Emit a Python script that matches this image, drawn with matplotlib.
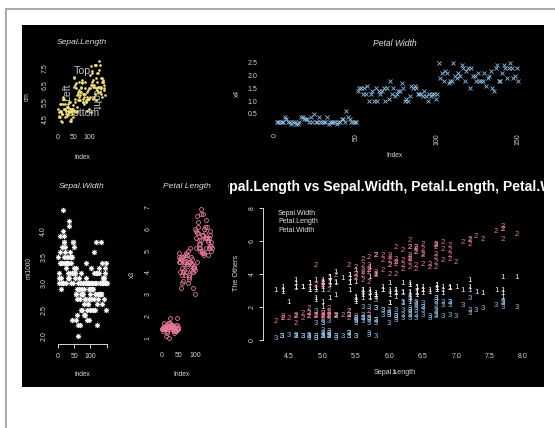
import matplotlib
matplotlib.use("Agg")
import matplotlib.pyplot as plt
from matplotlib.transforms import Bbox, TransformedBbox
from matplotlib.patches import Rectangle
from matplotlib.lines import Line2D

plt.rcParams['font.family'] = ['Liberation Sans', 'DejaVu Sans']

# ---------------- data (iris) ----------------
sepal_length = [5.1,4.9,4.7,4.6,5.0,5.4,4.6,5.0,4.4,4.9,5.4,4.8,4.8,4.3,5.8,5.7,5.4,5.1,5.7,5.1,5.4,5.1,4.6,5.1,4.8,5.0,5.0,5.2,5.2,4.7,4.8,5.4,5.2,5.5,4.9,5.0,5.5,4.9,4.4,5.1,5.0,4.5,4.4,5.0,5.1,4.8,5.1,4.6,5.3,5.0,
                7.0,6.4,6.9,5.5,6.5,5.7,6.3,4.9,6.6,5.2,5.0,5.9,6.0,6.1,5.6,6.7,5.6,5.8,6.2,5.6,5.9,6.1,6.3,6.1,6.4,6.6,6.8,6.7,6.0,5.7,5.5,5.5,5.8,6.0,5.4,6.0,6.7,6.3,5.6,5.5,5.5,6.1,5.8,5.0,5.6,5.7,5.7,6.2,5.1,5.7,
                6.3,5.8,7.1,6.3,6.5,7.6,4.9,7.3,6.7,7.2,6.5,6.4,6.8,5.7,5.8,6.4,6.5,7.7,7.7,6.0,6.9,5.6,7.7,6.3,6.7,7.2,6.2,6.1,6.4,7.2,7.4,7.9,6.4,6.3,6.1,7.7,6.3,6.4,6.0,6.9,6.7,6.9,5.8,6.8,6.7,6.7,6.3,6.5,6.2,5.9]
sepal_width = [3.5,3.0,3.2,3.1,3.6,3.9,3.4,3.4,2.9,3.1,3.7,3.4,3.0,3.0,4.0,4.4,3.9,3.5,3.8,3.8,3.4,3.7,3.6,3.3,3.4,3.0,3.4,3.5,3.4,3.2,3.1,3.4,4.1,4.2,3.1,3.2,3.5,3.6,3.0,3.4,3.5,2.3,3.2,3.5,3.8,3.0,3.8,3.2,3.7,3.3,
               3.2,3.2,3.1,2.3,2.8,2.8,3.3,2.4,2.9,2.7,2.0,3.0,2.2,2.9,2.9,3.1,3.0,2.7,2.2,2.5,3.2,2.8,2.5,2.8,2.9,3.0,2.8,3.0,2.9,2.6,2.4,2.4,2.7,2.7,3.0,3.4,3.1,2.3,3.0,2.5,2.6,3.0,2.6,2.3,2.7,3.0,2.9,2.9,2.5,2.8,
               3.3,2.7,3.0,2.9,3.0,3.0,2.5,2.9,2.5,3.6,3.2,2.7,3.0,2.5,2.8,3.2,3.0,3.8,2.6,2.2,3.2,2.8,2.8,2.7,3.3,3.2,2.8,3.0,2.8,3.0,2.8,3.8,2.8,2.8,2.6,3.0,3.4,3.1,3.0,3.1,3.1,3.1,2.7,3.2,3.3,3.0,2.5,3.0,3.4,3.0]
petal_length = [1.4,1.4,1.3,1.5,1.4,1.7,1.4,1.5,1.4,1.5,1.5,1.6,1.4,1.1,1.2,1.5,1.3,1.4,1.7,1.5,1.7,1.5,1.0,1.7,1.9,1.6,1.6,1.5,1.4,1.6,1.6,1.5,1.5,1.4,1.5,1.2,1.3,1.4,1.3,1.5,1.3,1.3,1.3,1.6,1.9,1.4,1.6,1.4,1.5,1.4,
                4.7,4.5,4.9,4.0,4.6,4.5,4.7,3.3,4.6,3.9,3.5,4.2,4.0,4.7,3.6,4.4,4.5,4.1,4.5,3.9,4.8,4.0,4.9,4.7,4.3,4.4,4.8,5.0,4.5,3.5,3.8,3.7,3.9,5.1,4.5,4.5,4.7,4.4,4.1,4.0,4.4,4.6,4.0,3.3,4.2,4.2,4.2,4.3,3.0,4.1,
                6.0,5.1,5.9,5.6,5.8,6.6,4.5,6.3,5.8,6.1,5.1,5.3,5.5,5.0,5.1,5.3,5.5,6.7,6.9,5.0,5.7,4.9,6.7,4.9,5.7,6.0,4.8,4.9,5.6,5.8,6.1,6.4,5.6,5.1,5.6,6.1,5.6,5.5,4.8,5.4,5.6,5.1,5.1,5.9,5.7,5.2,5.0,5.2,5.4,5.1]
petal_width = [0.2,0.2,0.2,0.2,0.2,0.4,0.3,0.2,0.2,0.1,0.2,0.2,0.1,0.1,0.2,0.4,0.4,0.3,0.3,0.3,0.2,0.4,0.2,0.5,0.2,0.2,0.4,0.2,0.2,0.2,0.2,0.4,0.1,0.2,0.2,0.2,0.2,0.1,0.2,0.2,0.3,0.3,0.2,0.6,0.4,0.3,0.2,0.2,0.2,0.2,
               1.4,1.5,1.5,1.3,1.5,1.3,1.6,1.0,1.3,1.4,1.0,1.5,1.0,1.4,1.3,1.4,1.5,1.0,1.5,1.1,1.8,1.3,1.5,1.2,1.3,1.4,1.4,1.7,1.5,1.0,1.1,1.0,1.2,1.6,1.5,1.6,1.5,1.3,1.3,1.3,1.2,1.4,1.2,1.0,1.3,1.2,1.3,1.3,1.1,1.3,
               2.5,1.9,2.1,1.8,2.2,2.1,1.7,1.8,1.8,2.5,2.0,1.9,2.1,2.0,2.4,2.3,1.8,2.2,2.3,1.5,2.3,2.0,2.0,1.8,2.1,1.8,1.8,1.8,2.1,1.6,1.9,2.0,2.2,1.5,1.4,2.3,2.4,1.8,1.8,2.1,2.4,2.3,1.9,2.3,2.5,2.3,1.9,2.0,2.3,1.8]
index = list(range(1, 151))

titles = ["Sepal.Length", "Petal Width", "Sepal.Width", "Petal Length"]
main_title = "Sepal.Length vs Sepal.Width, Petal.Length, Petal.Width"
legend_labels = ["Sepal.Width", "Petal.Length", "Petal.Width"]
overlay_labels = ["Top", "Left", "Bottom", "Right"]

idx_ticks_3 = [0, 50, 100]
idx_ticks_4 = [0, 50, 100, 150]
sl_ticks = [4.5, 5.5, 6.5, 7.5]
pw_ticks = [0.5, 1.0, 1.5, 2.0, 2.5]
sw_ticks = [2.0, 2.5, 3.0, 3.5, 4.0]
pl_ticks = [1, 2, 3, 4, 5, 6, 7]
others_ticks = [0, 2, 4, 6, 8]
x5_ticks = [4.5, 5.0, 5.5, 6.0, 6.5, 7.0, 7.5, 8.0]

# ---------------- style ----------------
YELLOW = '#f2e07a'
BLUE = '#8dbde3'
PINK = '#e6799c'
WHITE = '#f2f2f2'
TXT = '#d6d6d6'
TS = 5.0   # tick label size

W, H = 555, 428
fig = plt.figure(figsize=(W / 100, H / 100), dpi=100)
fig.patch.set_facecolor('white')

def fx(x):
    return x / W

def fy(y):
    return 1 - y / H

fig.add_artist(Rectangle((fx(22), fy(387)), (544 - 22) / W, (387 - 25) / H,
                         transform=fig.transFigure, facecolor='black',
                         edgecolor='none', zorder=-10))
fig.add_artist(Line2D([fx(5.5), fx(5.5)], [fy(8.5), 0], transform=fig.transFigure,
                      color='#a8a8a8', lw=1.4, zorder=-9))
fig.add_artist(Line2D([fx(5.5), 1], [fy(8.5), fy(8.5)], transform=fig.transFigure,
                      color='#a8a8a8', lw=1.4, zorder=-9))

def add_ax(x0, x1, y0, y1):
    ax = fig.add_axes([fx(x0), fy(y1), (x1 - x0) / W, (y1 - y0) / H])
    ax.set_facecolor('none')
    for s in ax.spines.values():
        s.set_visible(False)
    ax.tick_params(colors=TXT, labelcolor=TXT, labelsize=TS, length=0)
    return ax

def ftext(x, y, s, **kw):
    kw.setdefault('color', TXT)
    kw.setdefault('ha', 'center')
    kw.setdefault('va', 'center')
    return fig.text(fx(x), fy(y), s, **kw)

def set_rot_yticks(ax, ticks, labels, pad):
    ax.set_yticks(ticks)
    ax.set_yticklabels(labels, rotation=90, va='center')
    ax.tick_params(axis='y', pad=pad)

# ---------------- panel 1: Sepal.Length ----------------
ax1 = add_ax(56.5, 106.4, 58.8, 124.9)
ax1.set_xlim(-4.96, 155.96)
ax1.set_ylim(4.156, 8.044)
ax1.plot(index, sepal_length, 'o', ms=1.9, mew=0, color=YELLOW, zorder=3)
ax1.set_xticks(idx_ticks_3)
ax1.set_xticklabels([str(t) for t in idx_ticks_3])
ax1.tick_params(axis='x', pad=6.3)
set_rot_yticks(ax1, sl_ticks, [f"{t:.1f}" for t in sl_ticks], 5.8)
OV = '#c4c4c4'
for (px, py, rot), lab in zip([(82, 71, 0), (67, 92, 90), (83, 113, 0), (95, 97, 270)], overlay_labels):
    ax1.text(fx(px), fy(py), lab, transform=fig.transFigure, color=OV, fontsize=7.6,
             rotation=rot, ha='center', va='center', zorder=1)
ftext(82, 43, titles[0], fontsize=6.1, style='italic', color='#dedede')
ftext(27, 97, "cm", fontsize=4.8, rotation=90)
ftext(82, 157, "index", fontsize=4.8)

# ---------------- panel 2: Petal Width ----------------
ax2 = add_ax(267, 528, 60.5, 126.6)
ax2.set_xlim(-4.96, 155.96)
ax2.set_ylim(0.004, 2.596)
ax2.plot(index, petal_width, 'x', ms=2.7, mew=0.6, color=BLUE)
ax2.set_xticks(idx_ticks_4)
ax2.set_xticklabels([str(t) for t in idx_ticks_4], rotation=90, va='top')
ax2.tick_params(axis='x', pad=4.6)
ax2.set_yticks(pw_ticks)
ax2.set_yticklabels([f"{t:.1f}" for t in pw_ticks])
ax2.tick_params(axis='y', pad=7)
ftext(395, 43, titles[1], fontsize=6.2, style='italic', color='#dedede')
ftext(237, 93, "x4", fontsize=4.8, rotation=90)
ftext(395, 156, "Index", fontsize=4.8)

# ---------------- panel 3: Sepal.Width ----------------
ax3 = add_ax(56.4, 108.6, 205, 341)
ax3.set_xlim(-4.96, 155.96)
ax3.set_ylim(1.904, 4.496)
ax3.plot(index, sepal_width, marker=(8, 2, 0), ls='none', ms=3.7, mew=0.6, color=WHITE)
sb = ax3.spines['bottom']
sb.set_visible(True)
sb.set_color(TXT)
sb.set_linewidth(0.7)
sb.set_bounds(0, 150)
sb.set_position(('outward', 1.9))
ax3.set_xticks(idx_ticks_4)
ax3.set_xticklabels([str(t) for t in idx_ticks_3] + [''])
ax3.tick_params(axis='x', length=2.6, width=0.7, direction='out', pad=4.3)
set_rot_yticks(ax3, sw_ticks, [f"{t:.1f}" for t in sw_ticks], 6.5)
ftext(82, 187, titles[2], fontsize=6.1, style='italic', color='#dedede')
ftext(29, 268, "m/1000", fontsize=4.8, rotation=90)
ftext(82, 374.5, "index", fontsize=4.8)

# ---------------- panel 4: Petal Length ----------------
ax4 = add_ax(160.0, 213.6, 204, 343)
ax4.set_xlim(-4.96, 155.96)
ax4.set_ylim(0.764, 7.136)
ax4.plot(index, petal_length, 'o', ms=2.8, mfc='none', mec=PINK, mew=0.6)
ax4.set_xticks(idx_ticks_3)
ax4.set_xticklabels([str(t) for t in idx_ticks_3])
ax4.tick_params(axis='x', pad=6.8)
set_rot_yticks(ax4, pl_ticks, [str(t) for t in pl_ticks], 5.8)
ftext(187, 187, titles[3], fontsize=6.1, style='italic', color='#dedede')
ftext(132, 275, "x3", fontsize=4.8, rotation=90)
ftext(181.5, 374, "Index", fontsize=4.8)

# ---------------- panel 5: matplot ----------------
ax5 = add_ax(266, 526, 202.7, 345.3)
ax5.set_xlim(4.156, 8.044)
ax5.set_ylim(-0.32, 8.32)
for series, ch, col in [(sepal_width, '1', WHITE), (petal_length, '2', PINK), (petal_width, '3', BLUE)]:
    for xv, yv in zip(sepal_length, series):
        ax5.text(xv, yv, ch, color=col, fontsize=5.6, ha='center', va='center')
sl = ax5.spines['left']
sl.set_visible(True)
sl.set_color(TXT)
sl.set_linewidth(0.7)
sl.set_bounds(0, 8)
sl.set_position(('outward', 2.2))
ax5.set_yticks(others_ticks)
ax5.set_yticklabels([str(t) for t in others_ticks], rotation=90, va='center')
ax5.tick_params(axis='y', length=2.9, width=0.7, direction='out', pad=2.4)
ax5.set_xticks(x5_ticks)
ax5.set_xticklabels([f"{t:.1f}" for t in x5_ticks])
ax5.tick_params(axis='x', pad=5.8)
ftext(237, 273, "The Others", fontsize=5.2, rotation=90)
ftext(395, 373, "Sepal.Length", fontsize=5.1)
ftext(395, 373, "x", fontsize=5.1)
for i, lab in enumerate(legend_labels):
    ftext(278, 213 + 8.5 * i, lab, fontsize=5.0, ha='left', color='#e4e4e4')

t = ftext(396, 187, main_title, fontsize=10.1, weight='bold', color='white')
t.set_clip_box(TransformedBbox(Bbox([[fx(228), 0], [fx(544), 1]]), fig.transFigure))
t.set_clip_on(True)

fig.savefig('out.png', dpi=100, facecolor='white')
